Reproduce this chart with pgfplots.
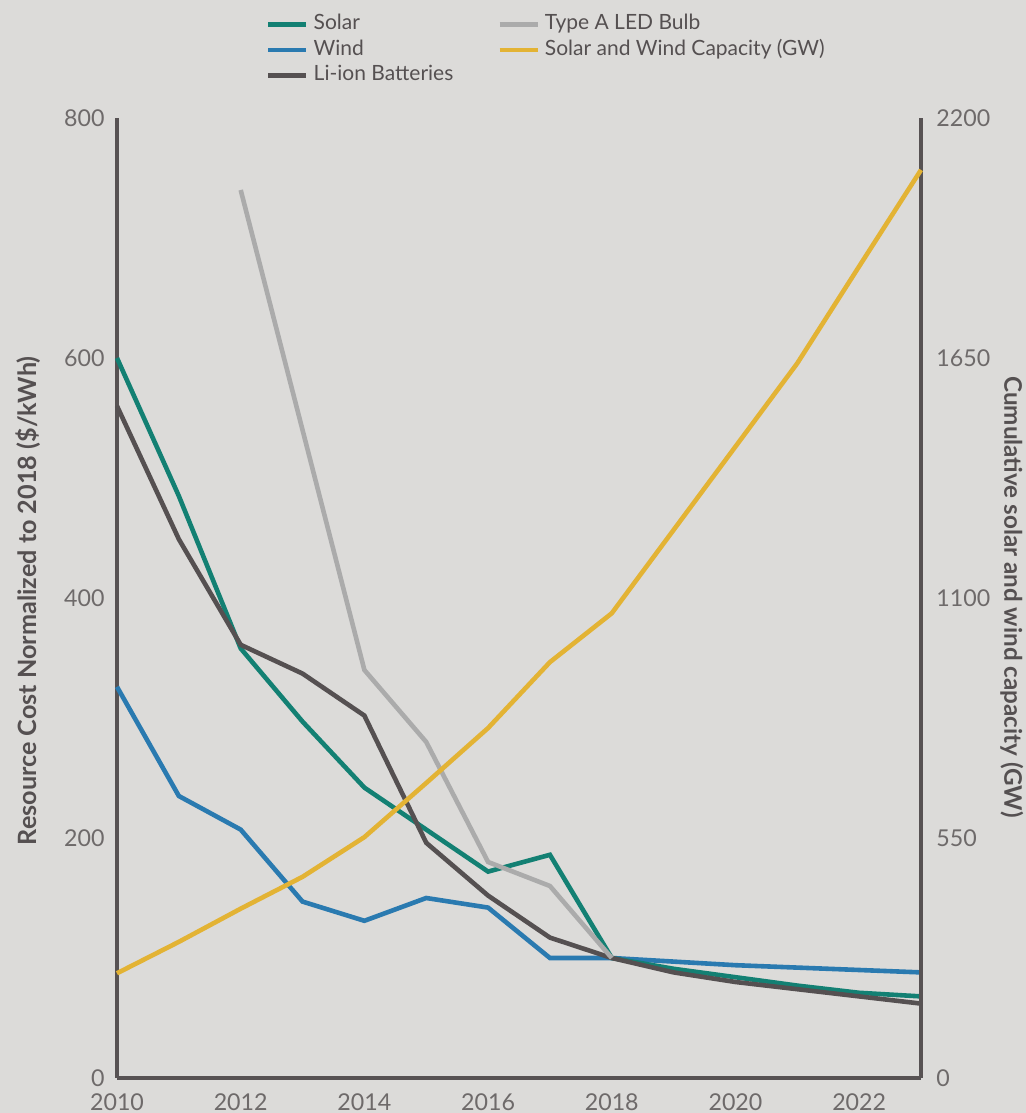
\documentclass[border=0pt]{standalone}
\usepackage{fontspec}
\setmainfont{Lato}
\usepackage{pgfplots}
\pgfplotsset{compat=1.18}
\definecolor{bgc}{HTML}{DCDBD9}
\definecolor{axisgray}{HTML}{575253}
\definecolor{ticktext}{HTML}{6E6A6A}
\definecolor{labeltext}{HTML}{555051}
\definecolor{solarcol}{HTML}{138073}
\definecolor{windcol}{HTML}{2A7AB0}
\definecolor{liioncol}{HTML}{555051}
\definecolor{ledcol}{HTML}{ABABAB}
\definecolor{capcol}{HTML}{E3B334}
\pgfplotsset{
  common/.style={
    at={(58.5pt,17.5pt)}, anchor=south west,
    scale only axis, width=402pt, height=480pt,
    xmin=2010, xmax=2023,
    clip=false,
    major tick length=0pt,
    /pgf/number format/assume math mode=true,
    /pgf/number format/1000 sep={},
    tick label style={font=\fontsize{11.6}{13}\selectfont, text=ticktext},
    axis line style={-, line width=2pt, color=axisgray},
    every axis plot/.append style={line width=2.3pt},
  }
}
\begin{document}
\begin{tikzpicture}
\fill[bgc] (0,0) rectangle (513pt,556.5pt);
\begin{axis}[common,
  ymin=0, ymax=800,
  axis x line*=bottom, axis y line*=left,
  xtick={2010,2012,...,2022},
  ytick={0,200,400,600,800},
  xticklabel style={inner sep=0pt, anchor=north, yshift=-7.5pt},
  yticklabel style={inner sep=0pt, anchor=east, xshift=-6pt},
  ylabel={Resource Cost Normalized to 2018 (\$/kWh)},
  ylabel style={at={(axis description cs:-0.1107,0.497)}, anchor=center, font=\bfseries\fontsize{12.6}{14}\selectfont, text=labeltext},
]
\addplot[color=windcol] coordinates {(2010,326) (2011,235) (2012,207) (2013,147) (2014,131) (2015,150) (2016,142) (2017,100) (2018,100) (2019,97) (2020,94) (2021,92) (2022,90) (2023,88)};
\addplot[color=solarcol] coordinates {(2010,600) (2011,485) (2012,358) (2013,297) (2014,242) (2015,207) (2016,172) (2017,186) (2018,100) (2019,91) (2020,84) (2021,77) (2022,71) (2023,68)};
\addplot[color=liioncol] coordinates {(2010,560) (2011,449) (2012,361) (2013,337) (2014,302) (2015,196) (2016,152) (2017,117) (2018,100) (2019,88) (2020,80) (2021,74) (2022,68) (2023,62)};
\addplot[color=ledcol] coordinates {(2012,740) (2013,540) (2014,340) (2015,280) (2016,180) (2017,160) (2018,100)};
\end{axis}
\begin{axis}[common,
  ymin=0, ymax=2200,
  axis x line=none, axis y line*=right,
  ytick={0,550,1100,1650,2200},
  yticklabel style={inner sep=0pt, anchor=west, xshift=7.5pt},
  ylabel={Cumulative solar and wind capacity (GW)},
  ylabel style={at={(axis description cs:1.113,0.501)}, anchor=center, rotate=180, font=\bfseries\fontsize{12.1}{14}\selectfont, text=labeltext},
  legend columns=2,
  legend cell align=left,
  legend image code/.code={\draw[#1, line width=2.3pt] (0pt,0pt) -- (19pt,0pt);},
  legend style={at={(axis description cs:0.185,1.108)}, anchor=north west,
    draw=none, fill=none, inner sep=0pt,
    font=\fontsize{10.5}{12}\selectfont, text=labeltext,
    nodes={inner sep=0pt, text height=7.5pt, text depth=2pt},
    row sep=3.3pt,
    /tikz/every odd column/.append style={column sep=2.5pt},
    /tikz/every even column/.append style={column sep=22pt}},
]
\addlegendimage{color=solarcol}\addlegendentry{Solar}
\addlegendimage{color=ledcol}\addlegendentry{Type A LED Bulb}
\addlegendimage{color=windcol}\addlegendentry{Wind}
\addplot[color=capcol] coordinates {(2010,240) (2011,312) (2012,388) (2013,461) (2014,552) (2015,676) (2016,802) (2017,953) (2018,1065) (2019,1256) (2020,1447) (2021,1638) (2022,1860) (2023,2081)};
\addlegendentry{Solar and Wind Capacity (GW)}
\addlegendimage{color=liioncol}\addlegendentry{Li-ion Batteries}
\end{axis}
\pgfresetboundingbox
\useasboundingbox (0,0) rectangle (513pt,556.5pt);
\end{tikzpicture}
\end{document}
